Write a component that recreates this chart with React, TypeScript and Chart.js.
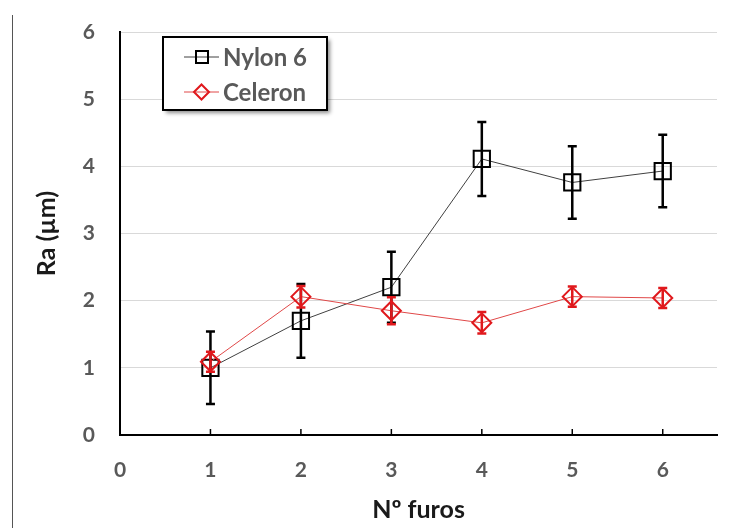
import React, { useEffect, useRef } from "react";
import { Chart, registerables } from "chart.js";
Chart.register(...registerables);

const holes = [1, 2, 3, 4, 5, 6];
const nylon = [1.0, 1.7, 2.2, 4.11, 3.76, 3.93];
const nylonErr = [0.54, 0.55, 0.53, 0.55, 0.54, 0.54];
const celeron = [1.09, 2.06, 1.85, 1.67, 2.06, 2.04];
const celeronErr = [0.15, 0.16, 0.2, 0.16, 0.15, 0.15];
const xTicks = [0, 1, 2, 3, 4, 5, 6];
const yTicks = [0, 1, 2, 3, 4, 5, 6];
const seriesNames = ["Nylon 6", "Celeron"];

const FONT = "Lato, 'Open Sans', sans-serif";

const errorBarPlugin = {
  id: "errorBars",
  afterDatasetDraw(chart: any, args: any) {
    const ds: any = chart.data.datasets[args.index];
    if (!ds.errors) return;
    const ctx = chart.ctx;
    const xs = chart.scales.x;
    const ys = chart.scales.y;
    ctx.save();
    ctx.strokeStyle = ds.errorColor;
    ctx.lineWidth = 2.5;
    ds.data.forEach((p: any, j: number) => {
      const x = xs.getPixelForValue(p.x);
      const yt = ys.getPixelForValue(p.y + ds.errors[j]);
      const yb = ys.getPixelForValue(p.y - ds.errors[j]);
      ctx.beginPath();
      ctx.moveTo(x, yt);
      ctx.lineTo(x, yb);
      ctx.moveTo(x - 4.5, yt);
      ctx.lineTo(x + 4.5, yt);
      ctx.moveTo(x - 4.5, yb);
      ctx.lineTo(x + 4.5, yb);
      ctx.stroke();
    });
    ctx.restore();
  },
};

const innerTicksPlugin = {
  id: "innerTicks",
  afterDatasetsDraw(chart: any) {
    const ctx = chart.ctx;
    const xs = chart.scales.x;
    const bottom = chart.chartArea.bottom;
    ctx.save();
    ctx.strokeStyle = "#000";
    ctx.lineWidth = 1.5;
    xTicks.forEach((v) => {
      if (v === 0) return;
      const x = xs.getPixelForValue(v);
      ctx.beginPath();
      ctx.moveTo(x, bottom);
      ctx.lineTo(x, bottom - 6);
      ctx.stroke();
    });
    ctx.restore();
  },
};

const legendPlugin = {
  id: "boxLegend",
  afterDraw(chart: any) {
    const ctx = chart.ctx;
    const left = 163, top = 37, w = 164, h = 73;
    ctx.save();
    ctx.shadowColor = "rgba(0,0,0,0.45)";
    ctx.shadowBlur = 4;
    ctx.shadowOffsetX = 3;
    ctx.shadowOffsetY = 3;
    ctx.fillStyle = "#fff";
    ctx.fillRect(left, top, w, h);
    ctx.restore();
    ctx.save();
    ctx.strokeStyle = "#000";
    ctx.lineWidth = 2;
    ctx.strokeRect(left, top, w, h);
    const rows = [57, 92];
    chart.data.datasets.forEach((ds: any, i: number) => {
      const y = rows[i];
      ctx.strokeStyle = ds.borderColor;
      ctx.lineWidth = 1;
      ctx.beginPath();
      ctx.moveTo(184, y);
      ctx.lineTo(219, y);
      ctx.stroke();
      ctx.strokeStyle = ds.pointBorderColor;
      ctx.lineWidth = 2;
      ctx.beginPath();
      if (ds.pointStyle === "rect") {
        ctx.rect(196, y - 6, 12, 12);
      } else {
        ctx.moveTo(194, y);
        ctx.lineTo(201.5, y - 7.5);
        ctx.lineTo(209, y);
        ctx.lineTo(201.5, y + 7.5);
        ctx.closePath();
      }
      ctx.stroke();
      ctx.fillStyle = "#595959";
      ctx.font = `bold 24px ${FONT}`;
      ctx.textBaseline = "middle";
      ctx.textAlign = "left";
      ctx.fillText(ds.label, 223, y + 1);
    });
    ctx.restore();
  },
};

export default function App() {
  const ref = useRef<HTMLCanvasElement | null>(null);
  useEffect(() => {
    const chart = new Chart(ref.current as HTMLCanvasElement, {
      type: "line",
      data: {
        datasets: [
          {
            label: seriesNames[0],
            data: holes.map((x, i) => ({ x, y: nylon[i] })),
            borderColor: "#404040",
            borderWidth: 1,
            pointStyle: "rect",
            pointRadius: 11.5,
            pointBorderWidth: 2,
            pointBorderColor: "#000",
            pointBackgroundColor: "rgba(0,0,0,0)",
            order: 1,
            errors: nylonErr,
            errorColor: "#000",
          } as any,
          {
            label: seriesNames[1],
            data: holes.map((x, i) => ({ x, y: celeron[i] })),
            borderColor: "#e04848",
            borderWidth: 1,
            pointStyle: "rectRot",
            pointRadius: 9.5,
            pointBorderWidth: 2,
            pointBorderColor: "#e0181c",
            pointBackgroundColor: "rgba(0,0,0,0)",
            order: 0,
            errors: celeronErr,
            errorColor: "#e0181c",
          } as any,
        ],
      },
      options: {
        animation: false,
        responsive: false,
        layout: { padding: { top: 32, right: 38, left: 0, bottom: 0 } },
        plugins: { legend: { display: false }, tooltip: { enabled: false } },
        scales: {
          x: {
            type: "linear",
            min: 0,
            max: 6.6,
            afterBuildTicks: (s: any) => {
              s.ticks = xTicks.map((v) => ({ value: v }));
            },
            afterFit: (s: any) => {
              s.height = 93;
              s.paddingLeft = 0;
              s.paddingRight = 0;
            },
            grid: { display: false, drawTicks: false },
            border: { display: true, color: "#000", width: 2 },
            ticks: {
              padding: 23,
              color: "#595959",
              font: { family: FONT, size: 21, weight: "bold" },
              callback: (v: any) => String(v),
            },
            title: {
              display: true,
              text: "Nº furos",
              color: "#1a1a1a",
              font: { family: FONT, size: 25, weight: "bold" },
              padding: { top: 0, bottom: 3 },
            },
          },
          y: {
            type: "linear",
            min: 0,
            max: 6,
            afterBuildTicks: (s: any) => {
              s.ticks = yTicks.map((v) => ({ value: v }));
            },
            afterFit: (s: any) => {
              s.width = 120;
              s.paddingTop = 0;
              s.paddingBottom = 0;
            },
            grid: { color: "#d9d9d9", lineWidth: 1, drawTicks: false },
            border: { display: true, color: "#000", width: 2 },
            ticks: {
              padding: 25,
              color: "#595959",
              font: { family: FONT, size: 21, weight: "bold" },
              callback: (v: any) => String(v),
            },
            title: {
              display: true,
              text: "Ra (µm)",
              color: "#1a1a1a",
              font: { family: FONT, size: 25, weight: "bold" },
              padding: 32,
            },
          },
        },
      },
      plugins: [errorBarPlugin, innerTicksPlugin, legendPlugin],
    });
    return () => chart.destroy();
  }, []);
  return (
    <div style={{ position: "absolute", left: 0, top: 0, width: 755, height: 528, background: "#fff" }}>
      <canvas ref={ref} width={755} height={528} />
      <div style={{ position: "absolute", left: 12, top: 15, width: 1, height: 513, background: "#555" }} />
    </div>
  );
}
